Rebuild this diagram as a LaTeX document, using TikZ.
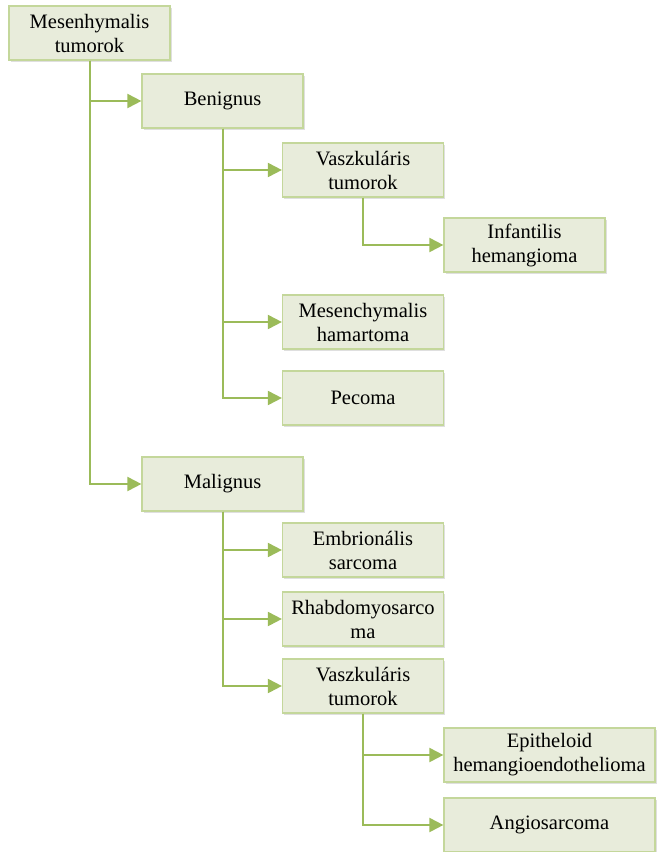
\documentclass[tikz,border=0pt]{standalone}
\usepackage{fontspec}
\setmainfont{Liberation Serif}
\usetikzlibrary{arrows.meta,shadows}
\definecolor{boxfill}{HTML}{E8ECDB}
\definecolor{boxedge}{HTML}{C4D79B}
\definecolor{linkcol}{HTML}{9BBB59}

\begin{document}
\begin{tikzpicture}[x=1pt, y=-1pt,
      every node/.append style={font=\fontsize{20.5}{24}\selectfont},
      box/.style={draw=boxedge, fill=boxfill, line width=1.2pt,
        minimum width=161pt, minimum height=54pt, align=center, inner sep=1pt,
        drop shadow={shadow xshift=1.5pt, shadow yshift=-2pt, opacity=0.25}},
      widebox/.style={box, minimum width=211pt},
      link/.style={draw=linkcol, line width=2pt, -{Triangle[length=14pt,width=14pt]}}]
    \useasboundingbox (0,0) rectangle (660,852);
    \node (root) [box] at (89.5,33) {Mesenhymalis\\tumorok};
    \node (benign) [box] at (222.5,101) {Benignus};
    \node (vasc1) [box] at (363,170) {Vaszkuláris\\tumorok};
    \node (infant) [box] at (524.5,245) {Infantilis\\hemangioma};
    \node (hamart) [box] at (363,322) {Mesenchymalis\\hamartoma};
    \node (pecoma) [box] at (363,398) {Pecoma};
    \node (malign) [box] at (222.5,484) {Malignus};
    \node (embryo) [box] at (363,550) {Embrionális\\sarcoma};
    \node (rhabdo) [box] at (363,619) {Rhabdomyosarco\\ma};
    \node (vasc2) [box] at (363,686) {Vaszkuláris\\tumorok};
    \node (epith) [widebox] at (549.5,755) {Epitheloid\\hemangioendothelioma};
    \node (angio) [widebox] at (549.5,825) {Angiosarcoma};
    % connectors
    \draw[link] (root.south) |- (benign.west);
    \draw[link] (root.south) |- (malign.west);
    \draw[link] (benign.south) |- (vasc1.west);
    \draw[link] (benign.south) |- (hamart.west);
    \draw[link] (benign.south) |- (pecoma.west);
    \draw[link] (vasc1.south) |- (infant.west);
    \draw[link] (malign.south) |- (embryo.west);
    \draw[link] (malign.south) |- (rhabdo.west);
    \draw[link] (malign.south) |- (vasc2.west);
    \draw[link] (vasc2.south) |- (epith.west);
    \draw[link] (vasc2.south) |- (angio.west);
\end{tikzpicture}
\end{document}
